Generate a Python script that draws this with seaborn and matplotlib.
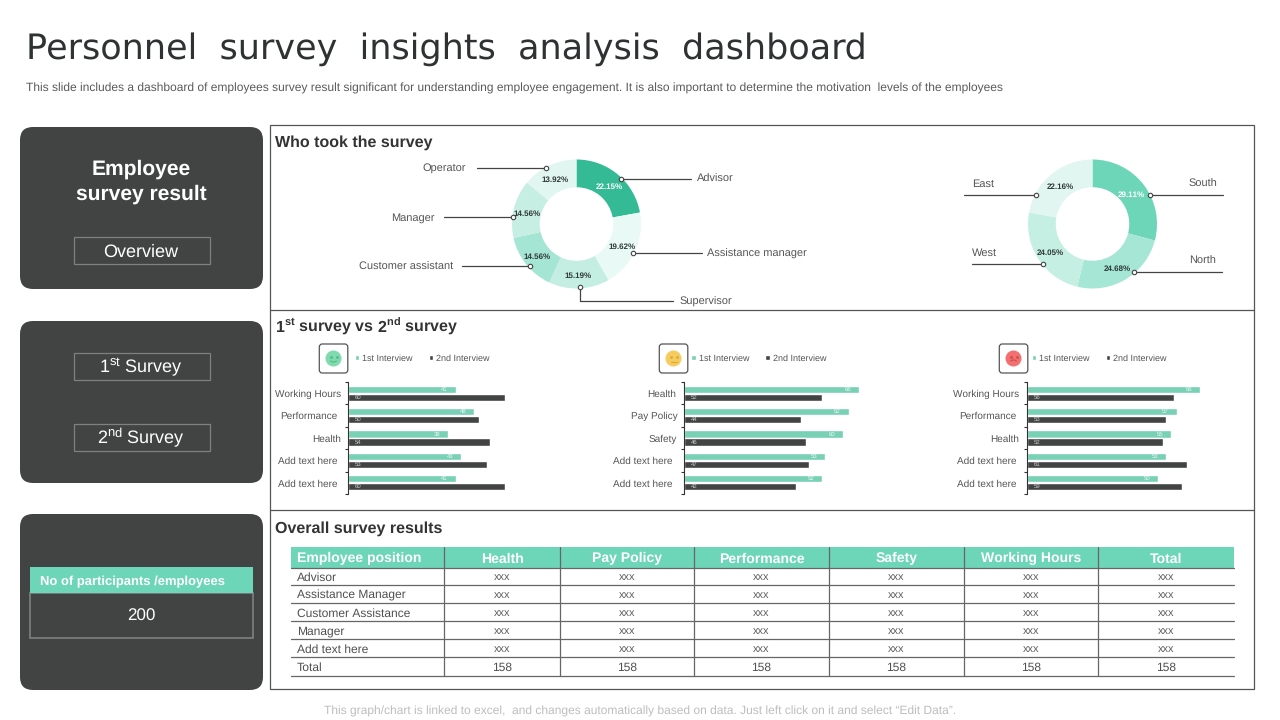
import matplotlib
matplotlib.use("Agg")
import matplotlib.pyplot as plt
from matplotlib.patches import FancyBboxPatch, Rectangle, Circle, Arc
import pandas as pd
import seaborn as sns

# ---------- data ----------
title = "Personnel  survey  insights  analysis  dashboard"
subtitle = ("This slide includes a dashboard of employees survey result significant for understanding employee "
            "engagement. It is also important to determine the motivation  levels of the employees")
footer = "This graph/chart is linked to excel,  and changes automatically based on data. Just left click on it and select \u201cEdit Data\u201d."

role_names = ["Advisor", "Assistance manager", "Supervisor", "Customer assistant", "Manager", "Operator"]
role_shares = [22.15, 19.62, 15.19, 14.56, 14.56, 13.92]
role_colors = ["#35BA96", "#E9F9F5", "#C5EEE3", "#A5E5D3", "#C6EEE3", "#E1F6F1"]

region_names = ["South", "North", "West", "East"]
region_shares = [29.11, 24.68, 24.05, 22.16]
region_colors = ["#6DD5B8", "#A5E6D4", "#C6EFE4", "#E1F6F1"]

series_names = ["1st Interview", "2nd Interview"]
series_colors = ["#78D0B5", "#424443"]

cats_a = ["Working Hours", "Performance", "Health", "Add text here", "Add text here"]
first_a = [41, 48, 38, 43, 41]
second_a = [60, 50, 54, 53, 60]

cats_b = ["Health", "Pay Policy", "Safety", "Add text here", "Add text here"]
first_b = [66, 62, 60, 53, 52]
second_b = [52, 44, 46, 47, 42]

cats_c = ["Working Hours", "Performance", "Health", "Add text here", "Add text here"]
first_c = [66, 57, 55, 53, 50]
second_c = [56, 53, 52, 61, 59]

table_header = ["Employee position", "Health", "Pay Policy", "Performance", "Safety", "Working Hours", "Total"]
table_rows = ["Advisor", "Assistance Manager", "Customer Assistance", "Manager", "Add text here"]
table_placeholder = "xxx"
table_total_label = "Total"
table_totals = [158, 158, 158, 158, 158, 158]
participants = 200

# ---------- layout ----------
W, H = 1280, 720
DARK = "#424443"
TEAL = "#6DD5B8"
LINE = "#555555"
TXT = "#555555"
BODY = "Liberation Sans"

sns.set_theme(style="white")
plt.rcParams["font.family"] = [BODY, "DejaVu Sans"]
plt.rcParams["mathtext.fontset"] = "custom"
plt.rcParams["mathtext.rm"] = BODY
plt.rcParams["mathtext.bf"] = BODY + ":bold"
plt.rcParams["text.hinting"] = "no_hinting"
plt.rcParams["text.hinting_factor"] = 1

fig = plt.figure(figsize=(W / 100, H / 100), dpi=100, facecolor="white")
ov = fig.add_axes([0, 0, 1, 1], zorder=1)
ov.set_xlim(0, W)
ov.set_ylim(H, 0)
ov.axis("off")
ov.patch.set_alpha(0)


def pt(px):
    return px * 0.72


def txt(x, y, s, px, color=TXT, ha="left", weight="normal", family=None, z=6):
    kw = {"family": family} if family else {}
    return ov.text(x, y + 0.36 * px, s, fontsize=pt(px), color=color, ha=ha, va="baseline", weight=weight, zorder=z, **kw)


def panel_axes(x, y, w, h, z):
    return fig.add_axes([x / W, 1 - (y + h) / H, w / W, h / H], zorder=z)


# header
txt(26, 46, title, 35.4, color="#2F3232", family="DejaVu Sans")
txt(26, 87.5, subtitle, 12.04, color="#5A5A5A")
txt(640.5, 710, footer, 11.83, color="#BDBDBD", ha="center")


# left panels
def dark_panel(y0, y1):
    ov.add_patch(FancyBboxPatch((20 + 13, y0 + 13), 243 - 26, y1 - y0 - 26,
                                boxstyle="round,pad=13,rounding_size=13", fc=DARK, ec="none", zorder=2))


dark_panel(127, 289)
dark_panel(321, 483)
dark_panel(514, 690)
txt(141, 167.5, "Employee", 21, color="white", ha="center", weight="bold")
txt(141, 192.5, "survey result", 21, color="white", ha="center", weight="bold")


def grey_box(y0, y1, label):
    ov.add_patch(Rectangle((73.5, y0 - 0.5), 136, y1 - y0, fc="none", ec="#7F8080", lw=0.9, zorder=3))
    txt(141, (y0 + y1) / 2 - 0.5, label, 18.2, color="white", ha="center")


grey_box(237, 264, "Overview")
grey_box(353, 380, r"1$^{\mathrm{st}}$ Survey")
grey_box(424, 451, r"2$^{\mathrm{nd}}$ Survey")

ov.add_patch(Rectangle((30, 593), 223, 44.5, fc="none", ec="#7F8080", lw=1.2, zorder=3))
ov.add_patch(Rectangle((30, 567), 223, 26, fc=TEAL, ec="none", zorder=3))
txt(40, 580.5, "No of participants /employees", 13, color="white", weight="bold")
txt(141.5, 615, str(participants), 17, color="white", ha="center")

# right frame
ov.add_patch(Rectangle((270, 125), 983.5, 563.5, fc="none", ec=LINE, lw=0.9, zorder=3))
ov.plot([270, 1254], [310, 310], color=LINE, lw=0.9, zorder=3)
ov.plot([270, 1254], [510, 510], color=LINE, lw=0.9, zorder=3)
txt(275, 141, "Who took the survey", 15.9, color="#333333", weight="bold")
txt(275, 325.5, r"1$^{\mathbf{st}}$ survey vs 2$^{\mathbf{nd}}$ survey", 15.9, color="#333333", weight="bold")
txt(275, 527, "Overall survey results", 15.9, color="#333333", weight="bold")


# donuts
def donut(cx, cy, r, shares, colors):
    ax = panel_axes(cx - r, cy - r, 2 * r, 2 * r, 0)
    ax.pie(shares, colors=colors, startangle=90, counterclock=False, radius=1,
           wedgeprops={"width": 0.43, "linewidth": 0})
    ax.set_xlim(-1, 1)
    ax.set_ylim(-1, 1)


donut(576.5, 224, 64.5, role_shares, role_colors)
donut(1092.5, 224, 64.5, region_shares, region_colors)


def leader(points):
    xs, ys = zip(*points)
    ov.plot(xs, ys, color="#444444", lw=0.9, zorder=4)
    ov.plot(xs[0], ys[0], "o", ms=3.2, mfc="white", mec="#444444", mew=0.8, zorder=5)


leader([(545.7, 168.3), (476.7, 168.3)])
leader([(621, 179), (691, 179)])
leader([(513.3, 217.3), (444.3, 217.3)])
leader([(632.7, 253.3), (701.7, 253.3)])
leader([(530.3, 266.3), (461.7, 266.3)])
leader([(580.3, 287), (580.3, 301), (673.3, 301)])
leader([(1150.3, 195.3), (1222.7, 195.3)])
leader([(1036.3, 195.3), (964, 195.3)])
leader([(1043.3, 264.3), (972, 264.3)])
leader([(1134.3, 272.3), (1222, 272.3)])

txt(697, 178, role_names[0], 10.8)
txt(707, 253, role_names[1], 10.8)
txt(680, 301, role_names[2], 10.8)
txt(453.3, 266, role_names[3], 10.8, ha="right")
txt(435, 217, role_names[4], 10.8, ha="right")
txt(465.7, 167, role_names[5], 10.8, ha="right")
txt(1217.7, 183, region_names[0], 10.8, ha="right")
txt(1216, 260, region_names[1], 10.8, ha="right")
txt(972, 252, region_names[2], 10.8)
txt(972, 183, region_names[3], 10.8)


def pct(x, y, v, color="#2F3A37"):
    txt(x, y, f"{v:.2f}%", 8.2, color=color, ha="center", weight="bold")


pct(609, 186.3, role_shares[0], "white")
pct(622, 246, role_shares[1])
pct(578, 275.3, role_shares[2])
pct(537, 256, role_shares[3])
pct(526.7, 213.3, role_shares[4])
pct(555, 179, role_shares[5])
pct(1131.7, 194.3, region_shares[0], "white")
pct(1117.7, 268.3, region_shares[1])
pct(1050, 252, region_shares[2])
pct(1060, 186.3, region_shares[3])


# bar charts
def bars(x_axis, scale, cats, first, second, pads, legend_x):
    rows = list(range(len(cats)))
    df = pd.DataFrame({
        "row": rows * 2,
        "value": first + second,
        "series": [series_names[0]] * len(cats) + [series_names[1]] * len(cats),
    })
    ax = panel_axes(x_axis, 382, 72 * scale, 112, 2)
    ax.patch.set_alpha(0)
    sns.barplot(data=df, x="value", y="row", hue="series", orient="y", palette=series_colors,
                width=0.72, gap=0.12, saturation=1, errorbar=None, ax=ax)
    ax.set_xlim(0, 72)
    ax.set_ylim(len(cats) - 0.5, -0.5)
    ax.set_xlabel("")
    ax.set_ylabel("")
    ax.set_xticks([])
    ax.set_yticks(rows)
    ax.set_yticklabels(cats, fontsize=pt(9.6), color=TXT)
    ax.set_yticks([r - 0.5 for r in rows] + [len(cats) - 0.5], minor=True)
    ax.tick_params(axis="y", which="major", length=0)
    ax.tick_params(axis="y", which="minor", length=2.4, width=0.8, color="#333333", left=True)
    for tick, p in zip(ax.yaxis.get_major_ticks(), pads):
        tick.set_pad(pt(p))
    sns.despine(ax=ax, top=True, right=True, bottom=True)
    ax.spines["left"].set_color("#333333")
    ax.spines["left"].set_linewidth(0.8)
    for container, color in zip(ax.containers, ["#E8F8F3", "#C9C9C9"]):
        for bar in container:
            yc = bar.get_y() + bar.get_height() / 2
            val = int(round(bar.get_width()))
            if color == "#E8F8F3":
                ax.annotate(str(val), (bar.get_width(), yc), xytext=(-pt(11), 0), textcoords="offset points",
                            ha="center", va="center", fontsize=pt(6.4), color=color)
            else:
                ax.annotate(str(val), (0, yc), xytext=(pt(10), 0), textcoords="offset points",
                            ha="center", va="center", fontsize=pt(6.4), color=color)
    handles, labels = ax.get_legend_handles_labels()
    ax.legend(handles, labels, loc="center left", bbox_to_anchor=(legend_x, 358.5), bbox_transform=ov.transData,
              ncol=2, frameon=False, fontsize=pt(9.4), handlelength=0.5, handleheight=0.5, handletextpad=0.3,
              columnspacing=1.7, borderpad=0, borderaxespad=0, labelcolor=TXT)


bars(348.2, 2.62, cats_a, first_a, second_a, [7, 11, 7, 11, 11], 354.5)
bars(684.2, 2.65, cats_b, first_b, second_b, [8, 7, 7, 12, 12], 691)
bars(1027.2, 2.62, cats_c, first_c, second_c, [7.7, 10.7, 7.7, 10.7, 10.7], 1031.5)


# emoji badges
def badge(x0, fill, mood):
    ov.add_patch(FancyBboxPatch((x0 + 3, 347), 22.5, 23, boxstyle="round,pad=3,rounding_size=3",
                                fc="white", ec="#555555", lw=0.9, zorder=3))
    cx, cy = x0 + 14.2, 358.5
    ov.add_patch(Circle((cx, cy), 8, fc=fill, ec="none", zorder=4))
    tone = {"happy": "#55B98A", "flat": "#D9A93C", "sad": "#C94E4E"}[mood]
    ov.plot([cx - 3, cx + 3], [cy - 2, cy - 2], ".", ms=2, color=tone, zorder=5)
    if mood == "happy":
        ov.add_patch(Arc((cx, cy + 1), 7, 5, theta1=20, theta2=160, color=tone, lw=0.8, zorder=5))
    elif mood == "sad":
        ov.add_patch(Arc((cx, cy + 4), 7, 5, theta1=200, theta2=340, color=tone, lw=0.8, zorder=5))
    else:
        ov.plot([cx - 3, cx + 3], [cy + 3, cy + 3], color=tone, lw=0.8, zorder=5)


badge(319.3, "#7FDAAE", "happy")
badge(659.3, "#F6CC5E", "flat")
badge(999.3, "#F37070", "sad")

# table
col_edges = [291, 444, 560, 694, 829, 963.5, 1098, 1234]
row_edges = [547, 567.5, 585, 603.3, 621, 639, 657.3, 676]
ov.add_patch(Rectangle((col_edges[0], row_edges[0]), col_edges[-1] - col_edges[0], row_edges[1] - row_edges[0],
                       fc=TEAL, ec="none", zorder=3))
for y in row_edges[1:]:
    ov.plot([col_edges[0], col_edges[-1]], [y, y], color="#666666", lw=0.9, zorder=4)
for x in col_edges[1:-1]:
    ov.plot([x, x], [row_edges[0], row_edges[-1]], color="#666666", lw=0.9, zorder=4)
for i, h in enumerate(table_header):
    if i == 0:
        txt(297, 557.5, h, 13.5, color="white", weight="bold")
    else:
        txt((col_edges[i] + col_edges[i + 1]) / 2, 557.5, h, 13.5, color="white", ha="center", weight="bold")
for r, name in enumerate(table_rows):
    yc = (row_edges[r + 1] + row_edges[r + 2]) / 2
    txt(297, yc, name, 12.4, color="#505050")
    for i in range(1, len(table_header)):
        txt((col_edges[i] + col_edges[i + 1]) / 2, yc, table_placeholder, 11, color="#606060", ha="center")
yc = (row_edges[6] + row_edges[7]) / 2
txt(297, yc, table_total_label, 12.4, color="#505050")
for i, v in enumerate(table_totals):
    txt((col_edges[i + 1] + col_edges[i + 2]) / 2, yc, str(v), 12.4, color="#505050", ha="center")

fig.savefig("out.png", dpi=100, facecolor="white")
